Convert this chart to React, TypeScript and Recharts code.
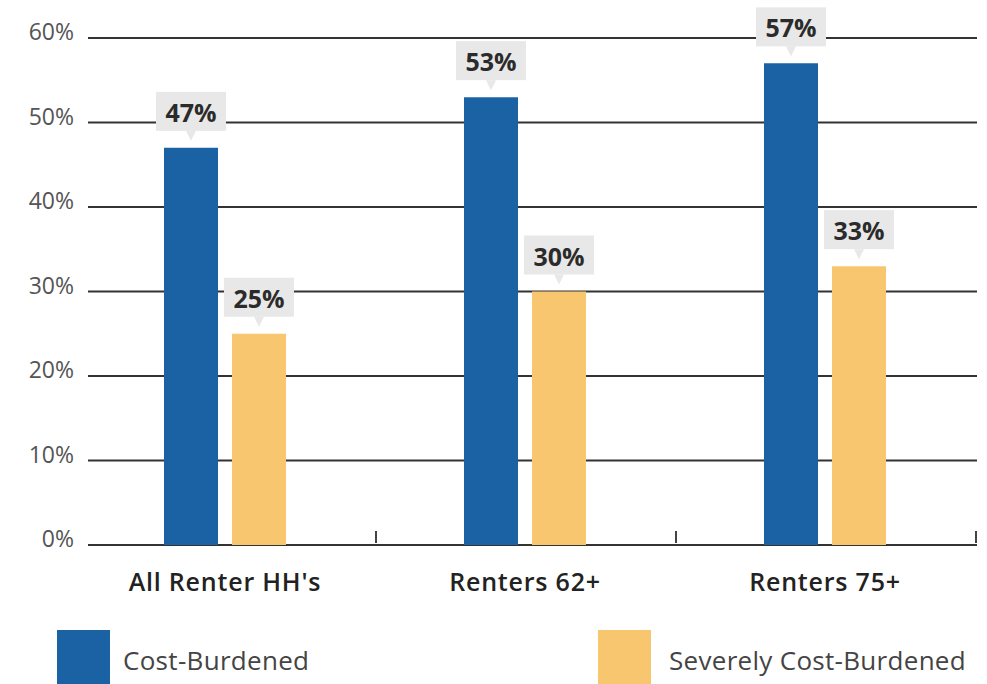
import { BarChart, Bar, XAxis, YAxis, CartesianGrid, LabelList, Legend } from "recharts";

const CATEGORIES = ["All Renter HH's", "Renters 62+", "Renters 75+"];
const COST_BURDENED = [47, 53, 57];
const SEVERELY = [25, 30, 33];
const Y_TICKS = [0, 10, 20, 30, 40, 50, 60];

const BLUE = "#1b62a4";
const GOLD = "#f9c670";
const FONT = "'Open Sans', Lato, sans-serif";

const data = CATEGORIES.map((name, i) => ({
  name,
  cost: COST_BURDENED[i],
  severe: SEVERELY[i],
}));

/* Grey callout box with a small pointer, sitting above each bar. */
function Callout(props: any) {
  const { x, y, width, value } = props;
  const cx = x + width / 2;
  const top = y - 56;
  return (
    <g>
      <rect x={cx - 35} y={top} width={70} height={39} fill="#e8e8e8" />
      <path d={`M${cx - 5},${top + 39} L${cx + 5},${top + 39} L${cx},${y - 7} Z`} fill="#e8e8e8" />
      <text
        x={cx} y={top + 20} textAnchor="middle" dominantBaseline="central"
        fontFamily={FONT} fontWeight={700} fontSize={25} fill="#2b2b2b"
      >
        {value}%
      </text>
    </g>
  );
}

function CategoryTick(props: any) {
  const { x, y, payload } = props;
  const half = payload.offset || 150;
  return (
    <g>
      <line x1={x + half + 1} x2={x + half + 1} y1={y - 10} y2={y - 22} stroke="#444" strokeWidth={2} />
      <text
        x={x} y={y + 28} textAnchor="middle" dominantBaseline="central" letterSpacing={0.8}
        fontFamily={FONT} fontWeight={600} fontSize={25} fill="#222"
      >
        {payload.value}
      </text>
    </g>
  );
}

function ValueTick(props: any) {
  const { x, y, payload } = props;
  return (
    <text
      x={x + 9} y={y - 7} textAnchor="end" dominantBaseline="central"
      fontFamily={FONT} fontSize={23} fill="#555"
    >
      {payload.value}%
    </text>
  );
}

function LegendBox() {
  const item = (color: string, label: string, left: number, gap: number) => (
    <div style={{ position: "absolute", left, top: 0, display: "flex", alignItems: "flex-start" }}>
      <div style={{ width: 53, height: 54, background: color }} />
      <span style={{ marginLeft: gap, marginTop: 12, fontSize: 26, letterSpacing: 0.3, color: "#444", fontFamily: FONT }}>{label}</span>
    </div>
  );
  return (
    <div style={{ position: "relative", width: 987, height: 54 }}>
      {item(BLUE, "Cost-Burdened", 57, 13)}
      {item(GOLD, "Severely Cost-Burdened", 598, 18)}
    </div>
  );
}

export default function App() {
  return (
    <div style={{ position: "fixed", left: 0, top: 0, width: 987, height: 684, background: "#fff" }}>
      <BarChart
        width={987} height={684} data={data}
        margin={{ top: 38, right: 12, left: 0, bottom: 0 }}
        barSize={54} barGap={14}
      >
        <CartesianGrid vertical={false} stroke="#333" strokeWidth={1.8} x={88} width={889} />
        <XAxis
          dataKey="name" height={85} tick={<CategoryTick />} tickLine={false}
          axisLine={false} interval={0}
        />
        <YAxis
          width={75} domain={[0, 60]} ticks={Y_TICKS} tick={<ValueTick />}
          axisLine={false} tickLine={false} tickMargin={4}
        />
        <Legend verticalAlign="bottom" content={() => <LegendBox />} wrapperStyle={{ left: 0, bottom: 0 }} height={54} />
        <Bar dataKey="cost" fill={BLUE} isAnimationActive={false}>
          <LabelList dataKey="cost" content={<Callout />} />
        </Bar>
        <Bar dataKey="severe" fill={GOLD} isAnimationActive={false}>
          <LabelList dataKey="severe" content={<Callout />} />
        </Bar>
      </BarChart>
    </div>
  );
}
